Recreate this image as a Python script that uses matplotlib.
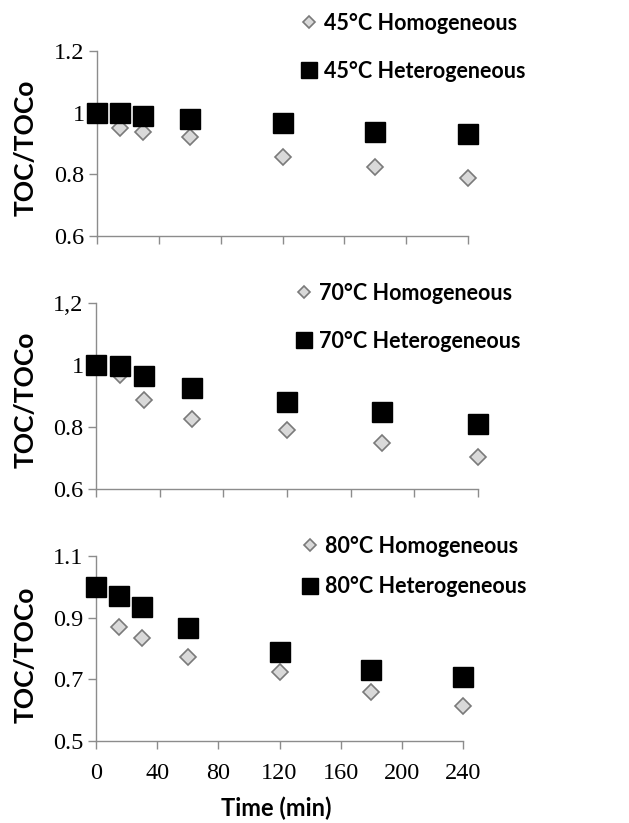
import numpy as np
import matplotlib
matplotlib.use('Agg')
import matplotlib.pyplot as plt
from matplotlib.lines import Line2D

# time points (min)
t = [0, 15, 30, 60, 120, 180, 240]

# TOC/TOCo values
homo_45 = [1.0, 0.95, 0.936, 0.922, 0.855, 0.825, 0.789]
hetero_45 = [1.0, 0.998, 0.989, 0.979, 0.968, 0.938, 0.93]
homo_70 = [1.0, 0.968, 0.886, 0.827, 0.791, 0.75, 0.703]
hetero_70 = [1.0, 0.996, 0.964, 0.926, 0.881, 0.849, 0.811]
homo_80 = [1.0, 0.871, 0.833, 0.774, 0.725, 0.658, 0.614]
hetero_80 = [1.0, 0.97, 0.936, 0.868, 0.79, 0.73, 0.709]

labels_homo = ['45°C Homogeneous', '70°C Homogeneous', '80°C Homogeneous']
labels_het = ['45°C Heterogeneous', '70°C Heterogeneous', '80°C Heterogeneous']

yticks = [[0.6, 0.8, 1.0, 1.2], [0.6, 0.8, 1.0, 1.2], [0.5, 0.7, 0.9, 1.1]]
yticklabels = [['0.6', '0.8', '1', '1.2'], ['0.6', '0.8', '1', '1,2'], ['0.5', '0.7', '0.9', '1.1']]
xticks = [0, 40, 80, 120, 160, 200, 240]

W, H = 629, 823
fig = plt.figure(figsize=(W / 100, H / 100), dpi=100)

# axes boxes in pixels: x0, x1, ytop, ybottom
boxes = [(97, 468, 51, 236), (96, 478, 303, 489), (96, 463, 556, 741)]
# legend top-left in pixels and row spacing
leg_px = [(300, 13), (295, 283), (301, 536)]
leg_space = [1.25, 1.25, 0.9]
ylab_cy = [148, 400, 655]

homos = [homo_45, homo_70, homo_80]
hets = [hetero_45, hetero_70, hetero_80]

gray = '#8c8c8c'
sans = 'Lato'
serif = 'Liberation Serif'

for i in range(3):
    x0, x1, yt, yb = boxes[i]
    aw, ah = x1 - x0, yb - yt
    ax = fig.add_axes([x0 / W, 1 - yb / H, aw / W, ah / H])
    ax.plot(t, homos[i], linestyle='none', marker='D', markersize=8.5,
            markerfacecolor='#d9d9d9', markeredgecolor='#7a7a7a', markeredgewidth=1.2,
            clip_on=False, zorder=3)
    ax.plot(t, hets[i], linestyle='none', marker='s', markersize=14.5,
            markerfacecolor='black', markeredgecolor='black',
            clip_on=False, zorder=4)
    ax.set_xlim(0, 240)
    ax.set_ylim(yticks[i][0], yticks[i][-1])
    ax.set_yticks(yticks[i])
    ax.set_yticklabels(yticklabels[i], fontfamily=serif, fontsize=17.5)
    ax.set_xticks(xticks)
    if i == 2:
        ax.set_xticklabels([str(v) for v in xticks], fontfamily=serif, fontsize=17.5)
        ax.set_xlabel('Time (min)', fontfamily=sans, fontweight='bold', fontsize=17)
        ax.xaxis.set_label_coords(0.49, -(797 - yb) / ah)
    else:
        ax.set_xticklabels([])
    for s in ['top', 'right']:
        ax.spines[s].set_visible(False)
    for s in ['left', 'bottom']:
        ax.spines[s].set_color(gray)
        ax.spines[s].set_linewidth(1.0)
    ax.tick_params(axis='both', direction='out', length=6, width=1, color=gray)
    ax.tick_params(axis='y', pad=3)
    ax.tick_params(axis='x', pad=10)
    ax.set_ylabel('TOC/TOCo', fontfamily=sans, fontweight='bold', fontsize=19)
    ax.yaxis.set_label_coords((38 - x0) / aw, (yb - ylab_cy[i]) / ah)

    handles = [
        Line2D([], [], linestyle='none', marker='D', markersize=6.5,
               markerfacecolor='#d9d9d9', markeredgecolor='#7a7a7a', markeredgewidth=1.2),
        Line2D([], [], linestyle='none', marker='s', markersize=11.5,
               markerfacecolor='black', markeredgecolor='black'),
    ]
    lx, ly = leg_px[i]
    ax.legend(handles, [labels_homo[i], labels_het[i]], loc='upper left',
              bbox_to_anchor=((lx - x0) / aw, (yb - ly) / ah), frameon=False,
              borderpad=0, borderaxespad=0,
              handlelength=0.8, handletextpad=0.3, labelspacing=leg_space[i],
              prop={'family': sans, 'weight': 'bold', 'size': 15.5})

fig.savefig('out.png', dpi=100)
